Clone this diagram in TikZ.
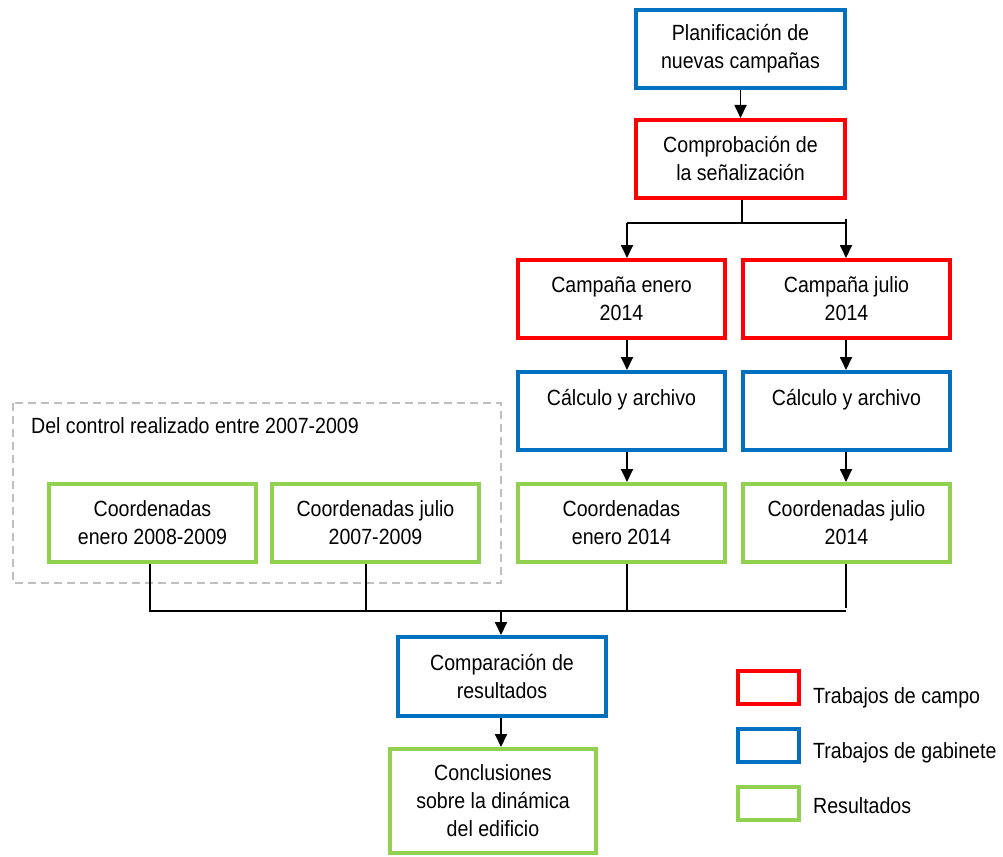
\documentclass[tikz,border=0pt]{standalone}
\usepackage{fontspec}
\setmainfont{Liberation Sans}[FakeStretch=0.89]
\usetikzlibrary{arrows.meta}

\definecolor{campo}{RGB}{255,0,0}
\definecolor{gabinete}{RGB}{0,112,192}
\definecolor{resultado}{RGB}{146,208,80}
\definecolor{marco}{RGB}{191,191,191}

\tikzset{
  box/.style={draw, line width=4pt, minimum width=207pt, minimum height=78pt,
    align=center, inner sep=0pt, font=\fontsize{22}{28}\selectfont},
  campobox/.style={box, draw=campo},
  gabbox/.style={box, draw=gabinete},
  resbox/.style={box, draw=resultado},
  legbox/.style={draw, line width=4pt, minimum width=61pt, minimum height=33pt, inner sep=0pt},
  legtext/.style={anchor=base west, inner sep=0pt, font=\fontsize{22}{28}\selectfont},
  conn/.style={line width=1.8pt},
  arr/.style={conn, -{Triangle[width=12pt,length=13pt]}}
}

\begin{document}
\begin{tikzpicture}[x=1pt,y=-1pt]
\useasboundingbox (0,0) rectangle (1003,856);

% grupo del control anterior
\draw[marco, line width=2pt, dash pattern=on 8pt off 5pt] (13,403) rectangle (501,583);
\node[legtext] (ctrlLbl) at (31,433) {Del control realizado entre 2007-2009};

% cajas
\node[gabbox, minimum width=209pt] (plan) at (740.5,49) {Planificación de\\nuevas campañas};
\node[campobox, minimum width=209pt] (comp) at (740.5,159) {Comprobación de\\la señalización};
\node[campobox] (camE) at (621.5,299) {Campaña enero\\2014};
\node[campobox] (camJ) at (846.5,299) {Campaña julio\\2014};
\node[gabbox] (calE) at (621.5,411) {Cálculo y archivo\\~};
\node[gabbox] (calJ) at (846.5,411) {Cálculo y archivo\\~};
\node[resbox] (coE) at (621.5,523) {Coordenadas\\enero 2014};
\node[resbox] (coJ) at (846.5,523) {Coordenadas julio\\2014};
\node[resbox] (co08) at (152.5,523) {Coordenadas\\enero 2008-2009};
\node[resbox] (co07) at (375.5,523) {Coordenadas julio\\2007-2009};
\node[gabbox, minimum width=208pt, minimum height=79pt] (compar) at (502,676.5) {Comparación de\\resultados};
\node[resbox, minimum width=206pt, minimum height=104pt] (concl) at (493,801) {Conclusiones\\sobre la dinámica\\del edificio};

% leyenda
\node[legbox, draw=campo] (legC) at (768,687.5) {};
\node[legbox, draw=gabinete] (legG) at (768,745.5) {};
\node[legbox, draw=resultado] (legR) at (768,803.5) {};
\node[legtext] (legCt) at (813,703) {Trabajos de campo};
\node[legtext] (legGt) at (813,758) {Trabajos de gabinete};
\node[legtext] (legRt) at (813,813) {Resultados};

% conectores
\coordinate (splitC) at (742,223);
\coordinate (splitL) at (627,223);
\coordinate (splitR) at (846,223);
\draw[arr] (plan) -- (comp);
\draw[conn] (comp.south -| splitC) -- (splitC);
\draw[conn] (splitL) -- (splitR);
\draw[arr] (splitL) -- (camE.north -| splitL);
\draw[arr] ([yshift=4pt]splitR) -- (camJ.north -| splitR);
\draw[arr] (camE.south -| splitL) -- (calE.north -| splitL);
\draw[arr] (camJ.south -| splitR) -- (calJ.north -| splitR);
\draw[arr] (calE.south -| splitL) -- (coE.north -| splitL);
\draw[arr] (calJ.south -| splitR) -- (coJ.north -| splitR);

\coordinate (busL) at (150,611);
\coordinate (busB) at (365.7,611);
\coordinate (busC) at (627,611);
\coordinate (busR) at (846,611);
\coordinate (busM) at (501,611);
\draw[conn] (co08.south -| busL) -- (busL) -- (busR);
\draw[conn] (co07.south -| busB) -- (busB);
\draw[conn] (coE.south -| busC) -- (busC);
\draw[conn] (coJ.south -| busR) -- ([yshift=3pt]busR);
\draw[arr] (busM) -- (compar.north -| busM);
\draw[arr] (compar.south -| busM) -- (concl.north -| busM);
\end{tikzpicture}
\end{document}
